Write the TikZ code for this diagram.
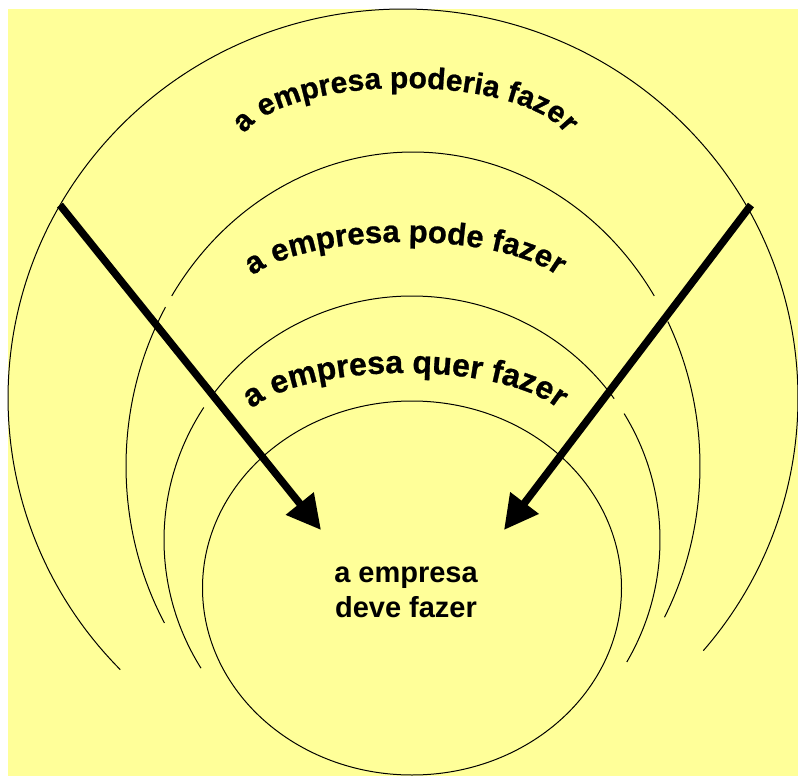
\documentclass[tikz,border=0pt]{standalone}
\usepackage{fontspec}
\setmainfont{Liberation Sans}
\newfontfamily\archfont{Liberation Sans Bold}[FakeBold=0.8]
\usetikzlibrary{arrows.meta,decorations.text,calc}
\definecolor{bgyellow}{HTML}{FFFF99}
\begin{document}
\begin{tikzpicture}[x=1pt,y=-1pt,
  ring/.style={line width=1pt, draw=black},
  bigarrow/.style={line width=7.5pt, line cap=butt, -{Triangle[length=34pt,width=34pt]}}]
\useasboundingbox (0,0) rectangle (798,776);
\fill[bgyellow] (8,9) rectangle (798,776);

% outer ring
\draw[ring] ($(403,398)+(40.5:395 and 389)$) arc[start angle=40.5, end angle=-224.3, x radius=395, y radius=389];

% "pode" ring
\draw[ring] ($(413,466)+(-147.2:287 and 314)$) arc[start angle=-147.2, end angle=-32.8, x radius=287, y radius=314];
\draw[ring] ($(413,466)+(-149.6:287 and 314)$) arc[start angle=-149.6, end angle=-210, x radius=287, y radius=314];
\draw[ring] ($(413,466)+(-27.4:287 and 314)$) arc[start angle=-27.4, end angle=28.8, x radius=287, y radius=314];

% "quer" ring
\draw[ring] ($(412,540)+(-142.9:248 and 244)$) arc[start angle=-142.9, end angle=-35.4, x radius=248, y radius=244];
\draw[ring] ($(412,540)+(-147.1:248 and 244)$) arc[start angle=-147.1, end angle=-211.7, x radius=248, y radius=244];
\draw[ring] ($(412,540)+(-31.2:248 and 244)$) arc[start angle=-31.2, end angle=30, x radius=248, y radius=244];

% inner ellipse
\draw[ring] (412,588) ellipse [x radius=209.5, y radius=187];

% arched texts
\path[decorate, decoration={text along path, text align=center,
  text={|\fontsize{30}{36}\archfont|a empresa poderia fazer}}]
  ($(405,148)+(185:165 and 60)$) arc[start angle=185, end angle=355, x radius=165, y radius=60];
\path[decorate, decoration={text along path, text align=center,
  text={|\fontsize{31}{36}\archfont|a empresa pode fazer}}]
  ($(405,297)+(185:165 and 55)$) arc[start angle=185, end angle=355, x radius=165, y radius=55];
\path[decorate, decoration={text along path, text align=center,
  text={|\fontsize{32}{36}\archfont|a empresa quer fazer}}]
  ($(405,430)+(185:165 and 57)$) arc[start angle=185, end angle=355, x radius=165, y radius=57];

% centre text
\node[font=\fontsize{29}{35}\selectfont\bfseries, align=center, inner sep=0pt] (deve) at (406,592) {a empresa\\deve fazer};

% arrows
\coordinate (la) at (60,205);
\coordinate (lt) at (321,530);
\coordinate (ra) at (751,205);
\coordinate (rt) at (504,530);
\draw[bigarrow] (la) -- (lt);
\draw[bigarrow] (ra) -- (rt);
\end{tikzpicture}
\end{document}
